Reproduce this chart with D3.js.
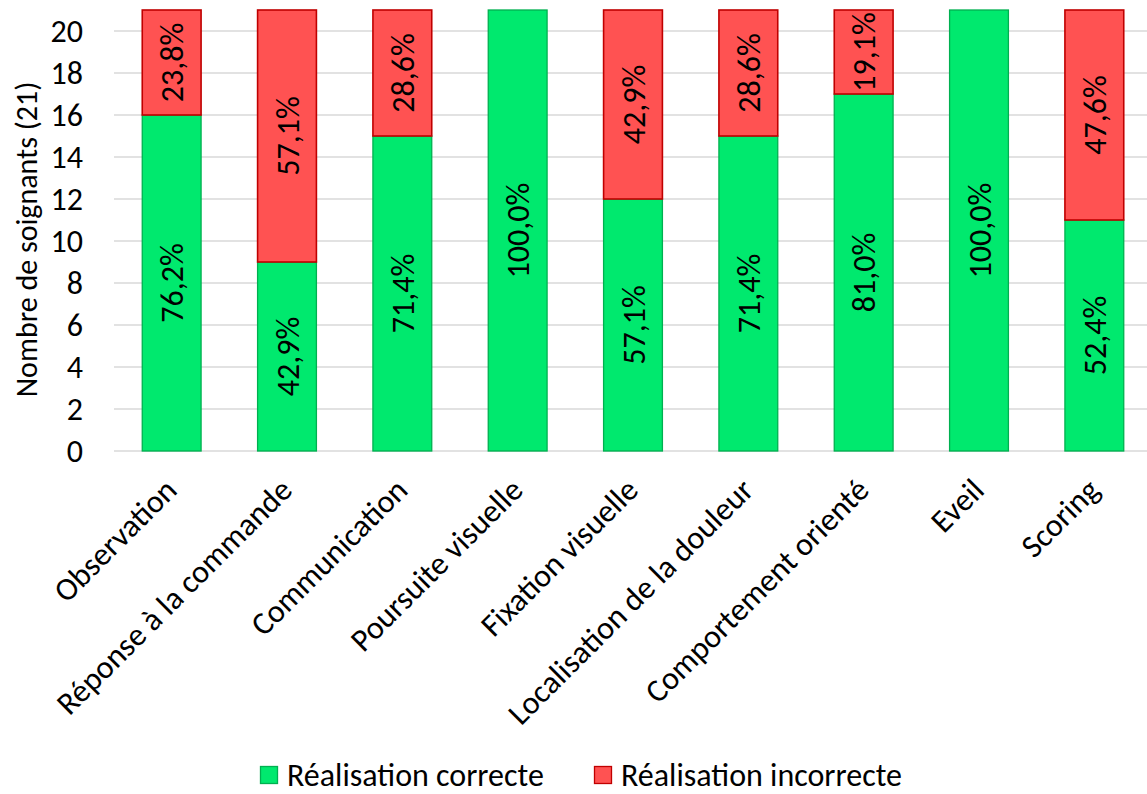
<!DOCTYPE html>
<html>
<head>
<meta charset="utf-8">
<script src="https://cdn.jsdelivr.net/npm/d3@7"></script>
<style>
  html, body { margin: 0; padding: 0; background: #fff; }
  svg { display: block; font-family: Carlito, Lato, "Open Sans", sans-serif; }
</style>
</head>
<body>
<svg id="chart" width="1147" height="794"></svg>
<script>
// Évaluation des soignants (21) par item
const categories = [
  "Observation", "Réponse à la commande", "Communication", "Poursuite visuelle",
  "Fixation visuelle", "Localisation de la douleur", "Comportement orienté", "Eveil", "Scoring"
];
const correct   = [16, 9, 15, 21, 12, 15, 17, 21, 11];
const incorrect = [5, 12, 6, 0, 9, 6, 4, 0, 10];
const pctCorrect   = ["76,2%", "42,9%", "71,4%", "100,0%", "57,1%", "71,4%", "81,0%", "100,0%", "52,4%"];
const pctIncorrect = ["23,8%", "57,1%", "28,6%", "", "42,9%", "28,6%", "19,1%", "", "47,6%"];
const yTicks = [0, 2, 4, 6, 8, 10, 12, 14, 16, 18, 20];
const seriesNames = ["Réalisation correcte", "Réalisation incorrecte"];

const colors = {
  correct:   { fill: "#00E96E", stroke: "#00B050" },
  incorrect: { fill: "#FF5252", stroke: "#C00000" }
};

const svg = d3.select("#chart");
const plot = { left: 114, right: 1152, top: 10, bottom: 451 };
const fontSize = 32;

const x = d3.scaleBand()
  .domain(categories)
  .range([plot.left, plot.right])
  .paddingInner(0.49)
  .paddingOuter(0.245);

const y = d3.scaleLinear().domain([0, 21]).range([plot.bottom, plot.top]);

// Gridlines
svg.append("g")
  .selectAll("line")
  .data(yTicks)
  .join("line")
  .attr("x1", plot.left).attr("x2", 1147)
  .attr("y1", d => y(d)).attr("y2", d => y(d))
  .attr("stroke", "#D9D9D9").attr("stroke-width", 1.5);

// Y axis labels
const yAxis = svg.append("g")
  .attr("transform", `translate(${plot.left},0)`)
  .call(d3.axisLeft(y).tickValues(yTicks).tickSize(0).tickPadding(31));
yAxis.select(".domain").remove();
yAxis.selectAll("text")
  .attr("font-size", fontSize)
  .attr("font-family", "Carlito, Lato, 'Open Sans', sans-serif")
  .attr("fill", "#000");

// Y axis title
svg.append("text")
  .attr("transform", `translate(37,${(y(0) + y(21)) / 2 + 9}) rotate(-90)`)
  .attr("text-anchor", "middle")
  .attr("font-size", 30)
  .attr("fill", "#000")
  .text("Nombre de soignants (21)");

// Stacked bars
const rows = categories.map((c, i) => ({
  cat: c, correct: correct[i], incorrect: incorrect[i],
  pc: pctCorrect[i], pi: pctIncorrect[i]
}));

const bars = svg.append("g");
bars.selectAll("rect.correct")
  .data(rows)
  .join("rect")
  .attr("class", "correct")
  .attr("x", d => x(d.cat))
  .attr("width", x.bandwidth())
  .attr("y", d => y(d.correct))
  .attr("height", d => y(0) - y(d.correct))
  .attr("fill", colors.correct.fill)
  .attr("stroke", colors.correct.stroke)
  .attr("stroke-width", 1.3);

bars.selectAll("rect.incorrect")
  .data(rows.filter(d => d.incorrect > 0))
  .join("rect")
  .attr("class", "incorrect")
  .attr("x", d => x(d.cat))
  .attr("width", x.bandwidth())
  .attr("y", d => y(d.correct + d.incorrect))
  .attr("height", d => y(d.correct) - y(d.correct + d.incorrect))
  .attr("fill", colors.incorrect.fill)
  .attr("stroke", colors.incorrect.stroke)
  .attr("stroke-width", 1.6);

// Data labels (rotated)
const labels = svg.append("g")
  .attr("font-size", fontSize)
  .attr("fill", "#000")
  .attr("text-anchor", "middle");

const dx = 11.5;
labels.selectAll("text.lc")
  .data(rows)
  .join("text")
  .attr("class", "lc")
  .attr("transform", d => `translate(${x(d.cat) + x.bandwidth() / 2 + dx},${y(d.correct / 2)}) rotate(-90)`)
  .text(d => d.pc);

labels.selectAll("text.li")
  .data(rows.filter(d => d.incorrect > 0))
  .join("text")
  .attr("class", "li")
  .attr("transform", d => `translate(${x(d.cat) + x.bandwidth() / 2 + dx},${y(d.correct + d.incorrect / 2)}) rotate(-90)`)
  .text(d => d.pi);

// Category labels (rotated -45°)
svg.append("g")
  .selectAll("text")
  .data(categories)
  .join("text")
  .attr("transform", d => `translate(${x(d) + x.bandwidth() / 2 + 7},${plot.bottom + 41}) rotate(-45)`)
  .attr("text-anchor", "end")
  .attr("font-size", fontSize)
  .attr("fill", "#000")
  .text(d => d);

// Legend
const legendItems = [
  { name: seriesNames[0], c: colors.correct, x: 260 },
  { name: seriesNames[1], c: colors.incorrect, x: 594 }
];
const lg = svg.append("g").selectAll("g")
  .data(legendItems)
  .join("g")
  .attr("transform", d => `translate(${d.x},766)`);
lg.append("rect")
  .attr("x", 0.5).attr("y", 0.5).attr("width", 17).attr("height", 17)
  .attr("fill", d => d.c.fill).attr("stroke", d => d.c.stroke).attr("stroke-width", 1.3);
lg.append("text")
  .attr("x", 27).attr("y", 20)
  .attr("font-size", fontSize)
  .attr("fill", "#000")
  .text(d => d.name);
</script>
</body>
</html>
